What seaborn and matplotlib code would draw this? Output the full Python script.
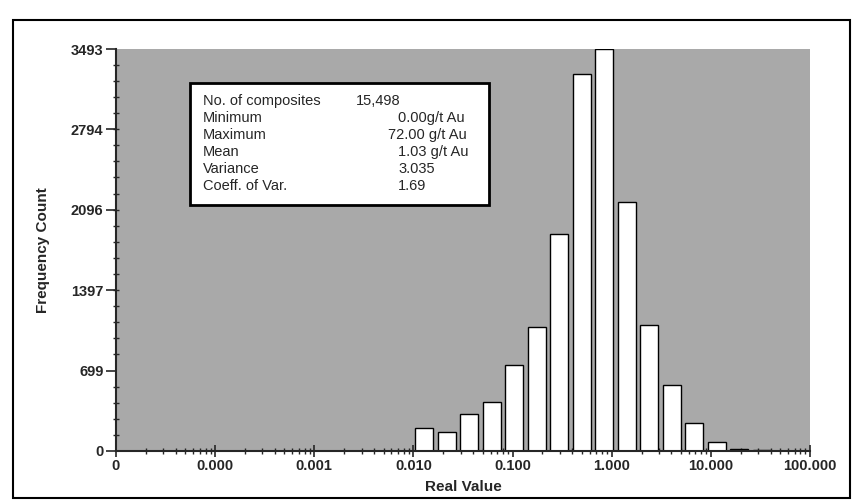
import matplotlib
matplotlib.use("Agg")
import matplotlib.pyplot as plt
import matplotlib.ticker as mticker
from matplotlib.patches import Rectangle
import seaborn as sns

# bin centres (g/t Au) and frequency counts
grade = [0.0127, 0.0214, 0.036, 0.061, 0.103, 0.173, 0.29, 0.49,
         0.83, 1.40, 2.36, 4.0, 6.7, 11.3, 19.1, 32.3]
counts = [201, 164, 325, 430, 747, 1081, 1884, 3272,
          3493, 2163, 1097, 577, 244, 78, 18, 6]

x_ticks = [1e-5, 1e-4, 1e-3, 1e-2, 1e-1, 1, 10, 100]
x_labels = ["0", "0.000", "0.001", "0.010", "0.100", "1.000", "10.000", "100.000"]
y_ticks = [0, 699, 1397, 2096, 2794, 3493]

stat_names = ["No. of composites", "Minimum", "Maximum", "Mean", "Variance", "Coeff. of Var."]
stat_values = ["15,498", "0.00g/t Au", "72.00 g/t Au", "1.03 g/t Au", "3.035", "1.69"]

sns.set_style("ticks")
plt.rcParams["font.family"] = ["Liberation Sans", "DejaVu Sans"]

fig = plt.figure(figsize=(8.57, 5.03), dpi=100)
ax = fig.add_axes([116 / 857, 1 - 451 / 503, (810 - 116) / 857, (451 - 49) / 503])
ax.set_facecolor("#a9a9a9")

# log-spaced bins, width in decades
sns.histplot(x=grade, weights=counts, log_scale=True, binwidth=0.227,
             binrange=(-2.01, -2.01 + 16 * 0.227), shrink=0.8,
             color="white", edgecolor="black", linewidth=1.0, alpha=1.0, ax=ax)

ax.set_xlim(1e-5, 100)
ax.set_ylim(0, 3493)
ax.set_xticks(x_ticks)
ax.set_xticklabels(x_labels)
ax.xaxis.set_minor_locator(mticker.LogLocator(base=10, subs=range(2, 10), numticks=20))
ax.xaxis.set_minor_formatter(mticker.NullFormatter())
ax.set_yticks(y_ticks)
ax.set_yticklabels([str(v) for v in y_ticks])
ax.yaxis.set_minor_locator(mticker.AutoMinorLocator(5))

for lab in ax.get_xticklabels() + ax.get_yticklabels():
    lab.set_fontweight("bold")
    lab.set_fontsize(10.5)

ax.tick_params(axis="x", which="major", direction="inout", length=8, width=1.2, pad=2)
ax.tick_params(axis="x", which="minor", direction="inout", length=5, width=1)
ax.tick_params(axis="y", which="major", direction="out", length=7, width=1.2, pad=2)
ax.tick_params(axis="y", which="minor", direction="inout", length=5, width=1)

for side in ["top", "right"]:
    ax.spines[side].set_visible(False)
ax.spines["left"].set_linewidth(1.5)
ax.spines["bottom"].set_linewidth(1.5)

ax.set_xlabel("Real Value", fontsize=11, fontweight="bold", labelpad=5)
ax.set_ylabel("Frequency Count", fontsize=11, fontweight="bold", labelpad=15)

# statistics box
ax.add_patch(Rectangle((0.107, 0.612), 0.43, 0.303, transform=ax.transAxes,
                       facecolor="white", edgecolor="black", linewidth=2, zorder=5))
name_x = (203 - 116) / 694
value_x = [(356 - 116) / 694, (398 - 116) / 694, (388 - 116) / 694,
           (398 - 116) / 694, (398 - 116) / 694, (398 - 116) / 694]
for i, (name, val) in enumerate(zip(stat_names, stat_values)):
    y = (451 - 101 - i * 17) / 402
    ax.text(name_x, y, name, transform=ax.transAxes, fontsize=10.5, va="center", zorder=6)
    ax.text(value_x[i], y, val, transform=ax.transAxes, fontsize=10.5, va="center", zorder=6)

# outer frame round the whole chart
fig.patches.append(Rectangle((13 / 857, 5 / 503), 837 / 857, 478 / 503,
                             transform=fig.transFigure, fill=False,
                             edgecolor="black", linewidth=1.5))

fig.savefig("out.png", dpi=100)
